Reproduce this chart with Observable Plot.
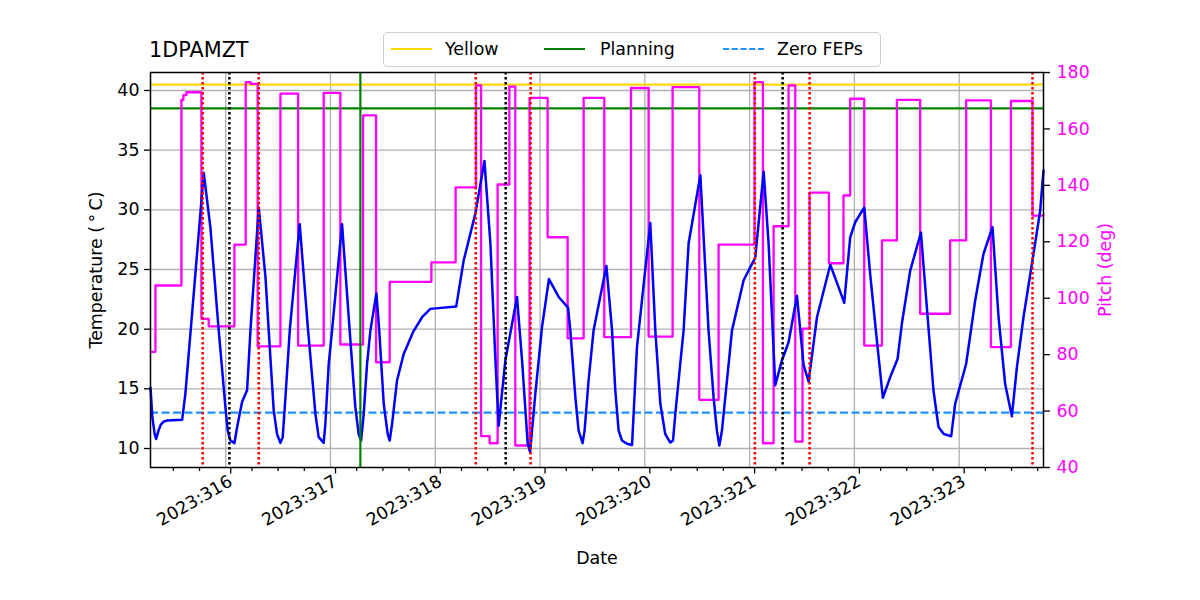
<!DOCTYPE html>
<html>
<head>
<meta charset="utf-8">
<script src="https://cdn.jsdelivr.net/npm/d3@7"></script>
<script src="https://cdn.jsdelivr.net/npm/@observablehq/plot@0.6"></script>
<style>
  body { margin: 0; background: #fff; font-family: "DejaVu Sans", sans-serif; }
  #wrap { position: relative; width: 1200px; height: 600px; }
  #title { position: absolute; left: 149px; top: 37px; font-size: 20.8px; line-height: 26px; color: #000; }
  #legend { position: absolute; left: 383px; top: 32px; width: 496px; height: 33px; border: 1px solid #d0d0d0; border-radius: 4px; background: rgba(255,255,255,0.85); }
  .sw { position: absolute; top: 15px; width: 41px; height: 0; border-top: 2px solid; }
  .lt { position: absolute; top: 3px; font-size: 17.4px; line-height: 26px; color: #000; white-space: nowrap; }
</style>
</head>
<body>
<div id="wrap">
  <div id="chart"></div>
  <div id="title">1DPAMZT</div>
  <div id="legend">
    <div class="sw" style="left:7px;border-color:gold"></div>
    <div class="lt" style="left:61px">Yellow</div>
    <div class="sw" style="left:160px;border-color:green"></div>
    <div class="lt" style="left:216px">Planning</div>
    <div class="sw" style="left:339px;border-top:2px dashed dodgerblue"></div>
    <div class="lt" style="left:393px">Zero FEPs</div>
  </div>
</div>
<script>
// ---- data (day of year 2023, fractional) ----
const tempT = [315.282,315.300,315.322,315.336,315.355,315.38,315.408,315.44,315.584,315.615,315.695,315.79,315.854,315.933,315.997,316.019,316.045,316.083,316.109,316.156,316.204,316.236,316.315,316.379,316.41,316.458,316.49,316.522,316.544,316.57,316.612,316.706,316.785,316.856,316.887,316.935,316.951,316.983,317.015,317.11,317.182,317.237,317.269,317.292,317.317,317.349,317.381,317.438,317.465,317.508,317.546,317.565,317.588,317.635,317.698,317.79,317.874,317.953,318.2,318.271,318.383,318.469,318.526,318.574,318.605,318.669,318.78,318.828,318.882,318.905,318.955,319.019,319.085,319.178,319.267,319.289,319.337,319.368,319.406,319.425,319.463,319.511,319.633,319.687,319.718,319.75,319.782,319.83,319.878,319.893,319.925,320.052,320.1,320.148,320.195,320.243,320.269,320.291,320.338,320.37,320.418,320.53,320.608,320.656,320.688,320.711,320.736,320.784,320.832,320.943,321.054,321.134,321.181,321.245,321.309,321.372,321.452,321.515,321.563,321.643,321.77,321.85,321.903,321.96,322.008,322.094,322.151,322.215,322.272,322.342,322.412,322.453,322.533,322.635,322.692,322.755,322.803,322.851,322.924,322.962,323.067,323.153,323.232,323.318,323.376,323.439,323.503,323.551,323.614,323.704,323.773,323.805];
const tempV = [15.1,12.6,11.2,10.8,11.4,12.0,12.25,12.35,12.4,14.6,23,33.1,28.5,19.9,13.46,11.5,10.67,10.45,11.8,13.9,14.9,19.9,30.2,24.4,19.9,13.2,11.2,10.47,10.95,14.3,20,28.8,20,12.9,10.95,10.47,12.07,17.1,19.9,28.8,20,13.46,11.2,10.67,12.9,17.1,19.9,23,19.9,13.75,11.2,10.67,12.07,15.7,17.9,19.8,21,21.7,21.9,25.75,29.7,34.1,27.2,17.4,11.9,17.4,22.7,17.4,10.4,9.7,14.6,20.2,24.2,22.7,21.8,19.9,14.3,11.5,10.45,11.5,15.7,19.9,25.3,19.9,14.9,11.5,10.67,10.4,10.3,12.9,18.5,28.9,19.9,13.75,11.2,10.5,10.67,12.9,17.1,19.9,27.2,32.9,19.9,14.3,11.5,10.25,11.5,15.7,19.9,24.1,26,33.2,27.2,15.3,17.4,18.9,22.8,17,15.6,21,25.4,23.5,22.2,27.7,28.96,30.2,24.6,19.05,14.25,15.98,17.5,20.45,24.9,28.1,21.8,14.86,11.8,11.23,11.03,13.75,17.1,22.4,26.3,28.55,21.0,15.4,12.7,16.8,21.0,26.0,29.9,33.3];

const pitchT = [315.282,315.329,315.577,315.596,315.625,315.768,315.838,316.083,316.191,316.236,316.305,316.522,316.691,316.935,317.094,317.311,317.435,317.565,317.963,318.194,318.389,318.437,318.519,318.595,318.707,318.764,318.9,319.072,319.263,319.416,319.613,319.868,320.036,320.265,320.52,320.704,321.047,321.127,321.229,321.372,321.436,321.505,321.572,321.757,321.896,321.96,322.094,322.263,322.406,322.628,322.914,323.067,323.303,323.494,323.7,323.805];
const pitchV = [81,104.5,170.3,172,173,92.7,90,119,176.6,176,82.9,172.5,83.2,172.8,83.6,164.8,77.3,105.8,112.7,139.3,175.4,51.1,48.6,140.3,175,47.8,171,121.6,85.8,171,86.2,174.5,86.4,174.8,64,119,176.6,48.6,125.5,175.4,49.2,89.2,137.4,112.4,136.4,170.7,83.2,120.5,170.3,94.5,120.5,170.1,82.7,169.9,129.3,129.3];

const yellowLimit = [40.5];
const planningLimit = [38.5];
const zeroFeps = [13.0];
const greenEvents = [317.285];
const redEvents = [315.78, 316.315, 318.386, 318.91, 321.05, 321.573, 323.70];
const blackEvents = [316.035, 318.672, 321.315];

const dayTicks = [316, 317, 318, 319, 320, 321, 322, 323];
const dayLabels = ["2023:316","2023:317","2023:318","2023:319","2023:320","2023:321","2023:322","2023:323"];
const tempTicks = [10, 15, 20, 25, 30, 35, 40];
const pitchTicks = [40, 60, 80, 100, 120, 140, 160, 180];

// ---- scales ----
const xDomain = [315.282, 323.805];
const T0 = 8.408, T1 = 41.508;   // temperature axis range
const P0 = 40, P1 = 180;         // pitch axis range
const p2t = p => T0 + (p - P0) / (P1 - P0) * (T1 - T0);
const t2p = t => P0 + (t - T0) / (T1 - T0) * (P1 - P0);

const temp = tempT.map((t, i) => ({t, v: tempV[i]}));
const pitch = pitchT.map((t, i) => ({t, v: pitchV[i]}));
const minorTicks = d3.range(315.5, 323.8, 0.25).filter(d => !Number.isInteger(d));

const chart = Plot.plot({
  width: 1200,
  height: 600,
  marginLeft: 150,
  marginRight: 157,
  marginTop: 72,
  marginBottom: 133,
  style: {fontFamily: "'DejaVu Sans', sans-serif", fontSize: "17.4px", background: "#fff", color: "#000"},
  x: {domain: xDomain},
  y: {domain: [T0, T1]},
  marks: [
    Plot.gridX(dayTicks, {stroke: "#b0b0b0", strokeOpacity: 1, strokeWidth: 1.3}),
    Plot.gridY(tempTicks, {stroke: "#b0b0b0", strokeOpacity: 1, strokeWidth: 1.3}),
    Plot.ruleY(yellowLimit, {stroke: "gold", strokeWidth: 2.2}),
    Plot.ruleY(planningLimit, {stroke: "green", strokeWidth: 2.2}),
    Plot.ruleY(zeroFeps, {stroke: "dodgerblue", strokeWidth: 2.2, strokeDasharray: "8,3.5"}),
    Plot.line(pitch, {x: "t", y: d => p2t(d.v), curve: "step-after", stroke: "magenta", strokeWidth: 2.3}),
    Plot.line(temp, {x: "t", y: "v", stroke: "blue", strokeWidth: 2.5}),
    Plot.ruleX(greenEvents, {stroke: "green", strokeWidth: 2.2}),
    Plot.ruleX(redEvents, {stroke: "red", strokeWidth: 2.5, strokeDasharray: "2.5,2.5"}),
    Plot.ruleX(blackEvents, {stroke: "black", strokeWidth: 2.5, strokeDasharray: "2.5,2.5"}),
    Plot.axisY(tempTicks, {anchor: "left", tickSize: 6, tickPadding: 5, strokeWidth: 1.3, label: null}),
    Plot.axisY(pitchTicks.map(p2t), {anchor: "right", tickSize: 6, tickPadding: 7, strokeWidth: 1.3, stroke: "black", fill: "magenta", tickFormat: t => Math.round(t2p(t)), label: null}),
    Plot.axisX(minorTicks, {anchor: "bottom", tickSize: 4, strokeWidth: 1.2, tickFormat: () => "", label: null}),
    Plot.axisX(dayTicks, {anchor: "bottom", tickSize: 6.5, tickPadding: 6, dx: 5, strokeWidth: 1.3, tickRotate: -30, tickFormat: d => dayLabels[dayTicks.indexOf(d)], label: null}),
    Plot.text(["Date"], {text: d => d, frameAnchor: "bottom", dy: 91, textAnchor: "middle", lineAnchor: "middle", fontSize: 17.4}),
    Plot.text(["Temperature (\u2009°\u2009C)"], {text: d => d, frameAnchor: "left", dx: -54, rotate: -90, textAnchor: "middle", lineAnchor: "middle", fontSize: 17.4}),
    Plot.text(["Pitch (deg)"], {text: d => d, frameAnchor: "right", dx: 62, rotate: -90, textAnchor: "middle", lineAnchor: "middle", fontSize: 17.4, fill: "magenta"}),
    Plot.frame({stroke: "black", strokeWidth: 1.5})
  ]
});
document.getElementById("chart").appendChild(chart);
</script>
</body>
</html>
